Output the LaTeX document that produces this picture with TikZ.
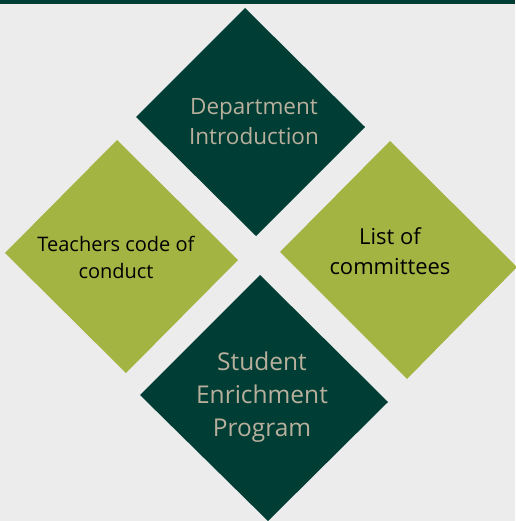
\documentclass[tikz,border=0pt]{standalone}
\usepackage{fontspec}
\setmainfont{Open Sans}
\definecolor{darkgreen}{HTML}{003D34}
\definecolor{olive}{HTML}{A4B443}
\definecolor{sand}{HTML}{B8AF9C}
\definecolor{paper}{HTML}{ECECEC}

\begin{document}
\begin{tikzpicture}[x = 1pt, y = -1pt,
		dark/.style = {fill = darkgreen},
		light/.style = {fill = olive},
		label/.style = {inner sep = 0pt, align = center}]
		\useasboundingbox (0,0) rectangle (515,521);
		\fill[paper] (0,0) rectangle (515,521);
		\fill[darkgreen] (0,0) rectangle (515,4);
		% diamonds
		\fill[dark] (245,8) -- (365,127) -- (256,236) -- (136,117) -- cycle;
		\fill[light] (117,140) -- (238,260) -- (126,373) -- (5,253) -- cycle;
		\fill[light] (390,141) -- (517,267) -- (407,379) -- (280,252) -- cycle;
		\fill[dark] (260,275) -- (388,402) -- (268,521) -- (140,395) -- cycle;
		% labels
		\node[label, text = sand, font = \fontsize{22.5}{30}\selectfont] (Intro) at (254,122) {Department\\Introduction};
		\node[label, text = black, font = \fontsize{20}{27}\selectfont] (Conduct) at (116,257) {Teachers code of\\conduct};
		\node[label, text = black, font = \fontsize{22}{30}\selectfont] (Committees) at (390,251) {List of\\committees};
		\node[label, text = sand, font = \fontsize{24.5}{33}\selectfont] (Enrichment) at (262,397) {Student\\Enrichment\\Program};
	\end{tikzpicture}
\end{document}
